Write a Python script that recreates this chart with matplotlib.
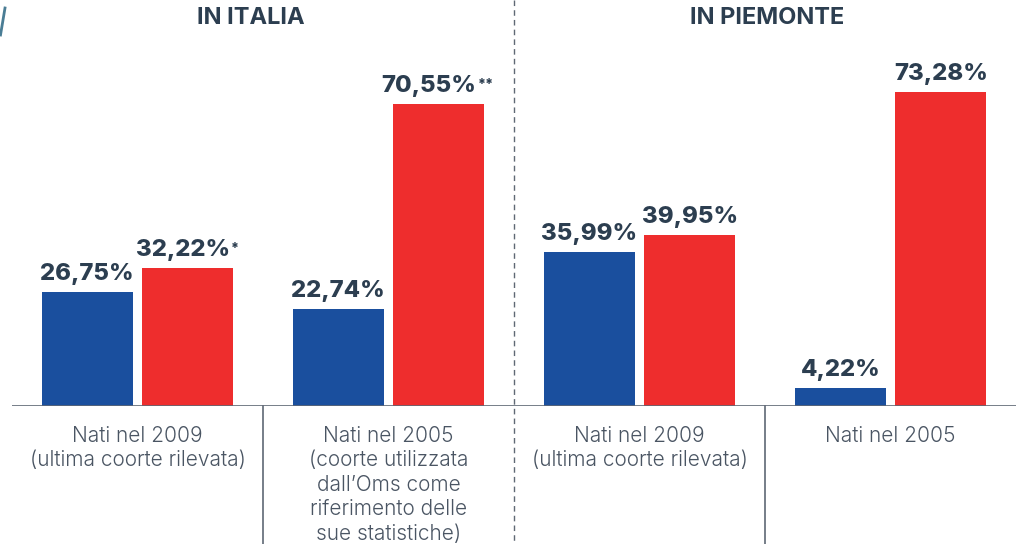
import numpy as np
import matplotlib
matplotlib.use("Agg")
import matplotlib.pyplot as plt
from matplotlib.lines import Line2D

# data
panels = ["IN ITALIA", "IN PIEMONTE"]
categories = ["Nati nel 2009\n(ultima coorte rilevata)",
              "Nati nel 2005\n(coorte utilizzata\ndall\u2019Oms come\nriferimento delle\nsue statistiche)",
              "Nati nel 2009\n(ultima coorte rilevata)",
              "Nati nel 2005"]
blue_vals = [26.75, 22.74, 35.99, 4.22]
red_vals = [32.22, 70.55, 39.95, 73.28]
red_marks = ["*", "**", "", ""]

BLUE = "#1a4f9e"
RED = "#ee2d2d"
NAVY = "#2c3e50"
GREY = "#4a5563"
LINE = "#5f6874"

W, H = 1016, 544
fig = plt.figure(figsize=(W / 100, H / 100), dpi=100)
base_px = 406
ax = fig.add_axes([12 / W, (H - base_px) / H, 1004 / W, base_px / H])
ax.set_xlim(-0.5, 3.5)
ax.set_ylim(0, base_px / 4.28)
ax.axis("off")

x = np.arange(len(categories))
bw = 0.3625
off = 0.2
ax.bar(x - off, blue_vals, bw, color=BLUE, zorder=2)
ax.bar(x + off, red_vals, bw, color=RED, zorder=2)

def fmt(v):
    return f"{v:.2f}%".replace(".", ",")

lab_font = dict(family="Inter", weight=800, fontsize=17.2, color=NAVY)
for xi, v in zip(x, blue_vals):
    ax.annotate(fmt(v), (xi - off, v), xytext=(0, 5), textcoords="offset points",
                ha="center", va="bottom", **lab_font)
for xi, v, m in zip(x, red_vals, red_marks):
    shift = -3.6 * len(m)
    t = ax.annotate(fmt(v), (xi + off, v), xytext=(shift, 5), textcoords="offset points",
                    ha="center", va="bottom", **lab_font)
    if m:
        ax.annotate(m, (1, 1), xycoords=t, xytext=(1, -2), textcoords="offset points",
                    ha="left", va="top", family="Inter", weight=800,
                    fontsize=10, color=NAVY)

# baseline
ax.axhline(0, color=LINE, lw=1.2, zorder=3)

# category labels
ymin_data = -(H - base_px) / 4.28
for xi, c in zip(x, categories):
    ax.text(xi, -4.6, c, ha="center", va="top", family="Inter", weight=300,
            fontsize=15, color=GREY, linespacing=1.28, clip_on=False)

# separators
for sx in [0.5, 2.5]:
    ax.plot([sx, sx], [0, ymin_data], color=LINE, lw=1.2, clip_on=False)
ax.plot([1.5, 1.5], [ax.get_ylim()[1], ymin_data], color=LINE, lw=1,
        ls=(0, (4, 3)), clip_on=False)

# panel titles
for px, p in zip([0.45, 2.51], panels):
    ax.text(px, ax.get_ylim()[1] - 18 / 4.28, p, ha="center", va="center",
            family="Inter", weight=700, fontsize=17, color=NAVY)

# decorative stroke top-left
fig.add_artist(Line2D([5 / W, 0.5 / W], [1 - 8 / H, 1 - 35 / H], color="#4a7d95", lw=2))

fig.savefig("out.png", dpi=100)
